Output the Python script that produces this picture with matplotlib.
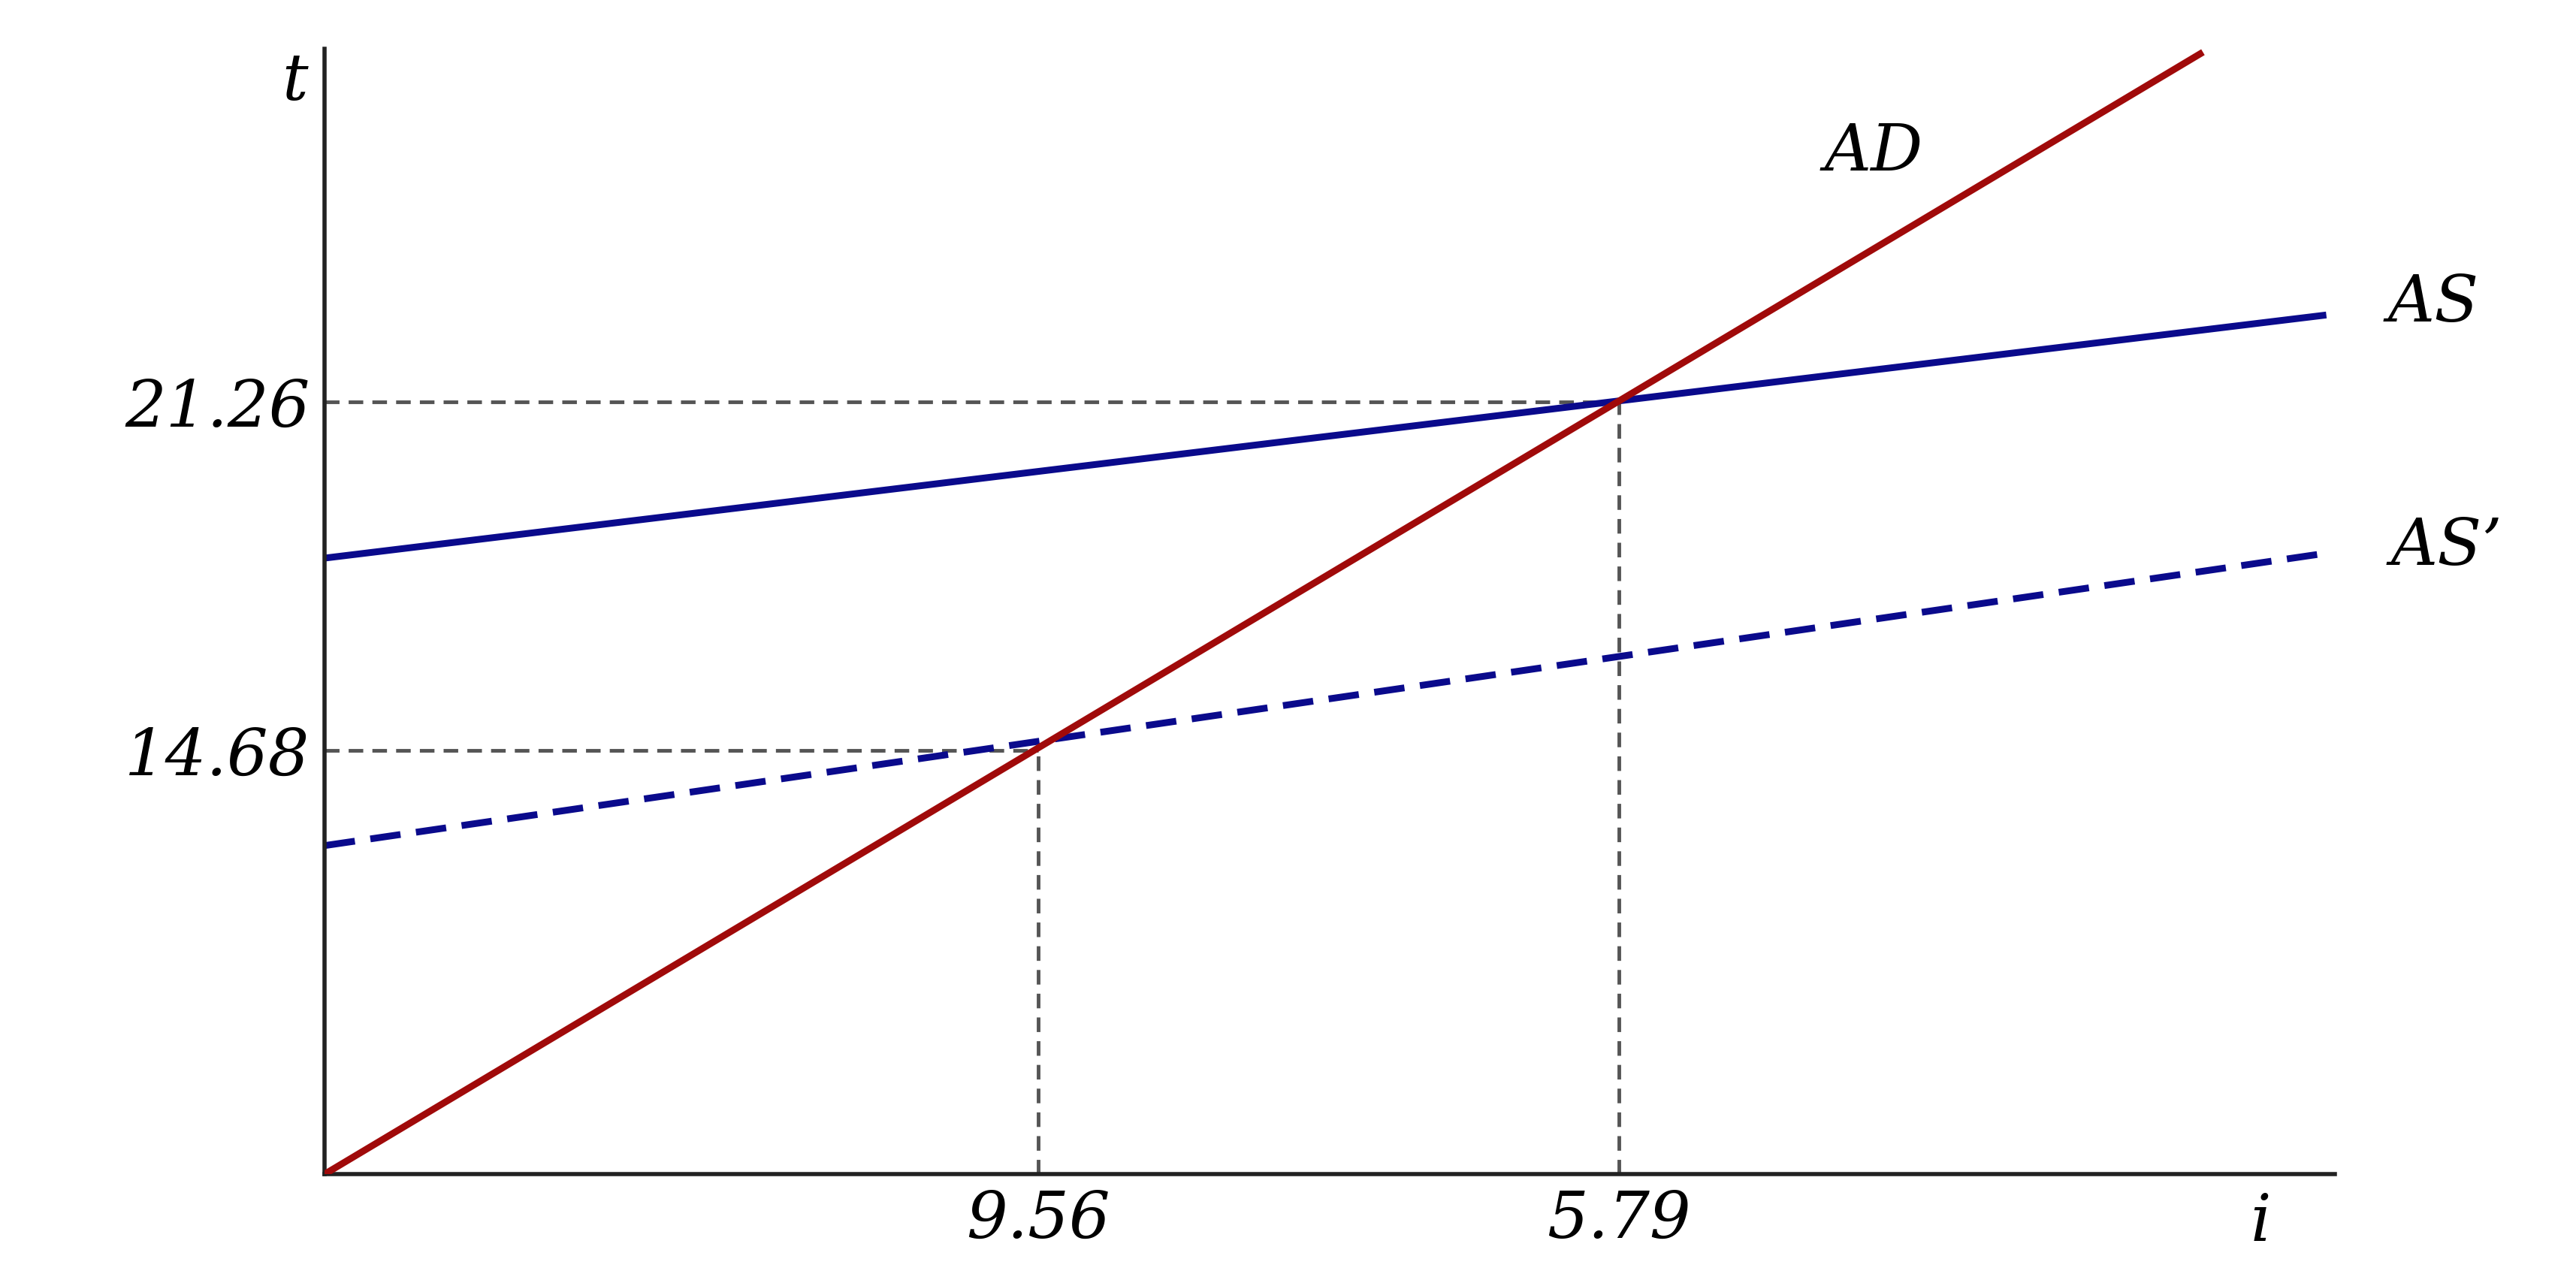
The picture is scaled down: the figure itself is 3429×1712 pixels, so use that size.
import matplotlib.pyplot as plt

# curves as (start, end) endpoints in chart units
ad_x = [0, 1142]
ad_y = [0, 683]
as_x = [0, 1217]
as_y = [375, 523]
as2_x = [0, 1217]
as2_y = [200, 378]

eq_x = [434, 787]
eq_y = [258, 470]
x_labels = ["9.56", "5.79"]
y_labels = ["14.68", "21.26"]

RED = "#A00A0A"
BLUE = "#0A0A8C"
FONT = dict(family=["DejaVu Serif"], style="italic", fontsize=62)

fig = plt.figure(figsize=(34.3, 17.12), dpi=100)
ax = fig.add_axes([0.126, 0.087, 0.780, 0.875])
ax.set_xlim(0, 1222)
ax.set_ylim(0, 685)

for s in ("top", "right"):
    ax.spines[s].set_visible(False)
for s in ("left", "bottom"):
    ax.spines[s].set_linewidth(4)
    ax.spines[s].set_color("#222222")

for x, y in zip(eq_x, eq_y):
    ax.plot([0, x], [y, y], ls=(0, (4, 2.5)), color="#555555", lw=3.5, zorder=1)
    ax.plot([x, x], [0, y], ls=(0, (4, 2.5)), color="#555555", lw=3.5, zorder=1)

ax.plot(as_x, as_y, color=BLUE, lw=6.5, zorder=2, solid_capstyle="butt")
ax.plot(as2_x, as2_y, color=BLUE, lw=6.5, ls=(0, (4.5, 2.3)), zorder=2)
ax.plot(ad_x, ad_y, color=RED, lw=6.5, zorder=3, solid_capstyle="butt")

ax.set_xticks(eq_x)
ax.set_xticklabels(x_labels, **FONT)
ax.set_yticks(eq_y)
ax.set_yticklabels(y_labels, **FONT)
ax.tick_params(length=0, pad=14)

ax.text(942, 622, "AD", ha="center", va="center", **FONT)
ax.text(1282, 530, "AS", ha="center", va="center", **FONT)
ax.text(1290, 382, "AS’", ha="center", va="center", **FONT)
ax.text(-18, 665, "t", ha="center", va="center", **FONT)
ax.text(1177, -30, "i", ha="center", va="center", clip_on=False, **FONT)

fig.savefig("out.png", dpi=100)
